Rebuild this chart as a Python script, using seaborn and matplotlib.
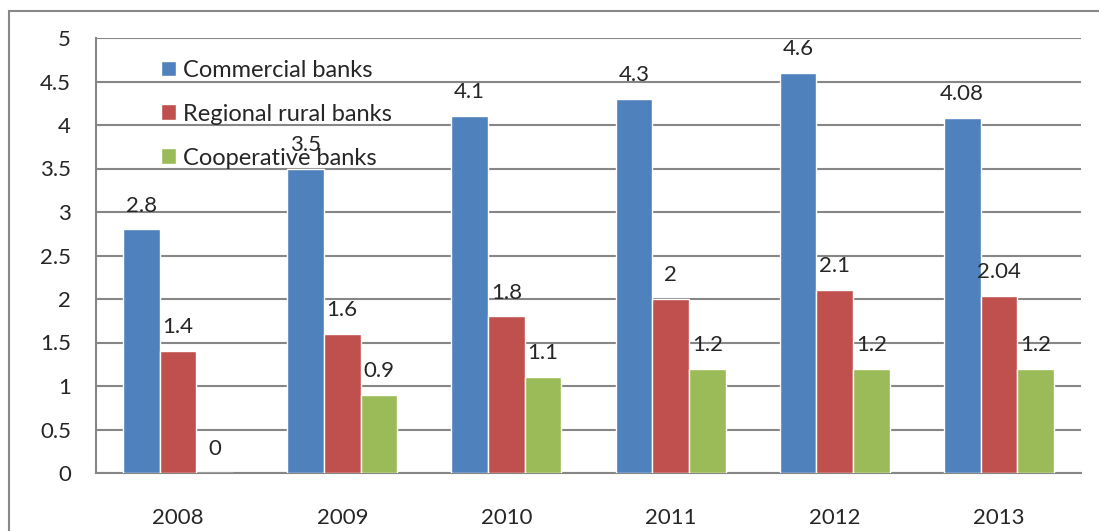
import pandas as pd
import numpy as np
import matplotlib
matplotlib.use("Agg")
import matplotlib.pyplot as plt
import seaborn as sns
from matplotlib.patches import Rectangle

# data
years = ['2008', '2009', '2010', '2011', '2012', '2013']
commercial = [2.8, 3.5, 4.1, 4.3, 4.6, 4.08]
regional_rural = [1.4, 1.6, 1.8, 2.0, 2.1, 2.04]
cooperative = [0.0, 0.9, 1.1, 1.2, 1.2, 1.2]
series_names = ['Commercial banks', 'Regional rural banks', 'Cooperative banks']
colors = ['#4F81BD', '#C0504D', '#9BBB59']

df = pd.DataFrame({
    'year': years * 3,
    'value': commercial + regional_rural + cooperative,
    'type': [s for s in series_names for _ in years],
})

sns.set_style("white")
plt.rcParams['font.family'] = ['Lato', 'DejaVu Sans']
fs = 16

fig = plt.figure(figsize=(10.99, 5.31), dpi=100)
ax = fig.add_axes([96 / 1099, 1 - 473 / 531, 985 / 1099, 435 / 531])

sns.barplot(data=df, x='year', y='value', hue='type', palette=colors,
            saturation=1, width=0.67, ax=ax, zorder=3)

# value labels above each bar
for cont, vals in zip(ax.containers, [commercial, regional_rural, cooperative]):
    ax.bar_label(cont, labels=[f'{v:g}' for v in vals], padding=10, fontsize=fs)

ax.set_ylim(0, 5)
ax.set_xlim(-0.5, 5.5)
ax.set_yticks(np.arange(0, 5.01, 0.5))
ax.set_yticklabels(['0', '0.5', '1', '1.5', '2', '2.5', '3', '3.5', '4', '4.5', '5'])
ax.yaxis.grid(True, color='#868686', linewidth=1.5, zorder=0)
ax.set_axisbelow(True)

ax.set_xticks(np.arange(-0.5, 6, 1), minor=True)
ax.tick_params(axis='x', which='major', length=0, pad=25, labelsize=fs)
ax.tick_params(axis='x', which='minor', length=6, width=1.5, color='#868686', direction='out')
ax.tick_params(axis='y', length=8, width=1.5, color='#868686', direction='out', pad=10, labelsize=fs)

for side in ['top', 'right']:
    ax.spines[side].set_visible(False)
for side in ['left', 'bottom']:
    ax.spines[side].set_color('#868686')
    ax.spines[side].set_linewidth(1.5)

ax.set_xlabel('')
ax.set_ylabel('')

leg = ax.legend(loc='upper left', bbox_to_anchor=(0.066, 0.95), frameon=False,
                fontsize=17, handlelength=0.65, handleheight=0.65, handletextpad=0.3,
                labelspacing=0.97, borderaxespad=0, borderpad=0)

# outer chart border
fig.patches.append(Rectangle((9 / 1099, -0.1), 1.2, 1.1 - 11 / 531,
                             transform=fig.transFigure, fill=False,
                             edgecolor='#888888', linewidth=1.5))

fig.savefig('out.png', dpi=100)
plt.close()
